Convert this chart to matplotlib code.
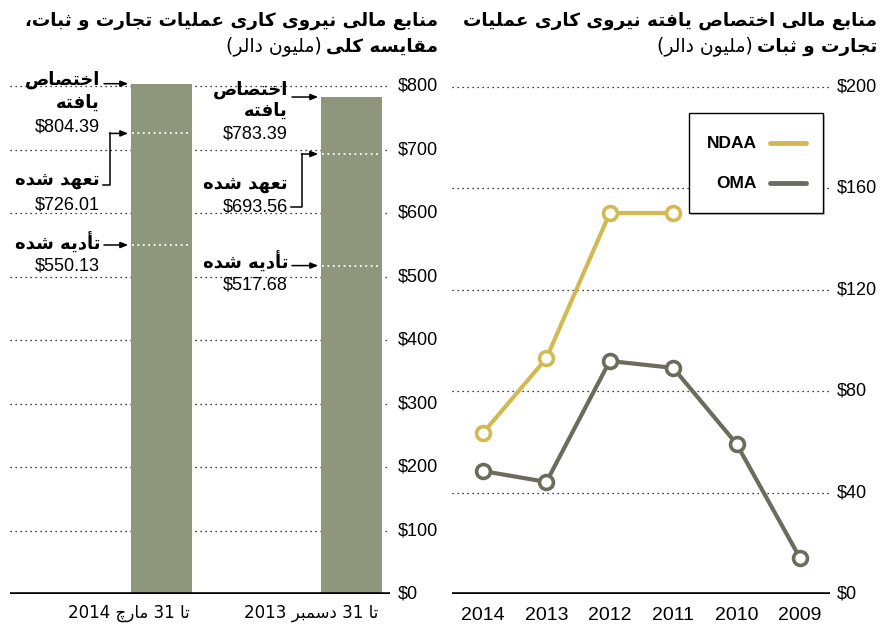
import matplotlib
matplotlib.use("Agg")
import matplotlib.pyplot as plt
from matplotlib.lines import Line2D
from matplotlib.patches import Rectangle

# ---------------- data ----------------
bar_categories = ["تا 31 مارچ 2014", "تا 31 دسمبر 2013"]
allocated = [804.39, 783.39]
obligated = [726.01, 693.56]
disbursed = [550.13, 517.68]
left_ticks = [0, 100, 200, 300, 400, 500, 600, 700, 800]

years = ["2014", "2013", "2012", "2011", "2010", "2009"]
ndaa = [63.5, 93.0, 150.3, 150.3, None, None]
oma = [48.5, 44.2, 91.9, 89.2, 59.2, 14.2]
right_ticks = [0, 40, 80, 120, 160, 200]

title_left_1 = "منابع مالی نیروی کاری عملیات تجارت و ثبات،"
title_left_2 = "مقایسه کلی"
title_right_1 = "منابع مالی اختصاص یافته نیروی کاری عملیات"
title_right_2 = "تجارت و ثبات"
unit_text = "(ملیون دالر)"
lbl_alloc = ["اختصاص", "یافته"]
lbl_oblig = "تعهد شده"
lbl_disb = "تأدیه شده"

# ---------------- arabic shaping (matplotlib has no RTL shaping) ----------------
FORMS = {
    '\u0627': ('\uFE8D', '\uFE8E', None, None),
    '\u0623': ('\uFE83', '\uFE84', None, None),
    '\u0628': ('\uFE8F', '\uFE90', '\uFE91', '\uFE92'),
    '\u062A': ('\uFE95', '\uFE96', '\uFE97', '\uFE98'),
    '\u062B': ('\uFE99', '\uFE9A', '\uFE9B', '\uFE9C'),
    '\u062C': ('\uFE9D', '\uFE9E', '\uFE9F', '\uFEA0'),
    '\u062E': ('\uFEA5', '\uFEA6', '\uFEA7', '\uFEA8'),
    '\u062F': ('\uFEA9', '\uFEAA', None, None),
    '\u0631': ('\uFEAD', '\uFEAE', None, None),
    '\u0633': ('\uFEB1', '\uFEB2', '\uFEB3', '\uFEB4'),
    '\u0634': ('\uFEB5', '\uFEB6', '\uFEB7', '\uFEB8'),
    '\u0635': ('\uFEB9', '\uFEBA', '\uFEBB', '\uFEBC'),
    '\u0639': ('\uFEC9', '\uFECA', '\uFECB', '\uFECC'),
    '\u0641': ('\uFED1', '\uFED2', '\uFED3', '\uFED4'),
    '\u0642': ('\uFED5', '\uFED6', '\uFED7', '\uFED8'),
    '\u0644': ('\uFEDD', '\uFEDE', '\uFEDF', '\uFEE0'),
    '\u0645': ('\uFEE1', '\uFEE2', '\uFEE3', '\uFEE4'),
    '\u0646': ('\uFEE5', '\uFEE6', '\uFEE7', '\uFEE8'),
    '\u0647': ('\uFEE9', '\uFEEA', '\uFEEB', '\uFEEC'),
    '\u0648': ('\uFEED', '\uFEEE', None, None),
    '\u06CC': ('\uFBFC', '\uFBFD', '\uFBFE', '\uFBFF'),
    '\u06A9': ('\uFB8E', '\uFB8F', '\uFB90', '\uFB91'),
    '\u0686': ('\uFB7A', '\uFB7B', '\uFB7C', '\uFB7D'),
}
MIRROR = {'(': ')', ')': '('}


def is_arabic(ch):
    return '\u0600' <= ch <= '\u06FF'


def shape_word(w):
    out = []
    n = len(w)
    for i, c in enumerate(w):
        if c not in FORMS:
            out.append(c)
            continue
        prev = w[i - 1] if i > 0 else None
        nxt = w[i + 1] if i < n - 1 else None
        jp = prev in FORMS and FORMS[prev][2] is not None
        jn = nxt in FORMS and FORMS[c][2] is not None
        iso, fin, ini, med = FORMS[c]
        if jp and jn:
            out.append(med)
        elif jp:
            out.append(fin)
        elif jn:
            out.append(ini)
        else:
            out.append(iso)
    return ''.join(out)


def rtl(text):
    toks = text.split(' ')
    vis = []
    for t in toks:
        if any(is_arabic(c) for c in t):
            s = shape_word(t)[::-1]
            s = ''.join(MIRROR.get(c, c) for c in s)
            vis.append(s)
        else:
            vis.append(t)
    return ' '.join(vis[::-1])


# ---------------- figure ----------------
W, H = 880, 626
fig = plt.figure(figsize=(8.8, 6.26), dpi=100)
fig.patch.set_facecolor("white")


def fp(x, y):
    return (x / W, 1 - y / H)


AR = ['DejaVu Sans']
LAT = ['Liberation Sans', 'DejaVu Sans']
BAR_C = "#8e967c"
GOLD = "#d3b954"
OLIVE = "#6d6c5c"
dots = (0, (1, 3))
PXL = 0.6344  # pixels per unit on left axis

# ---------- left axes ----------
axL = fig.add_axes([10 / W, 1 - 594 / H, 380 / W, 534 / H])
xs = list(range(len(bar_categories)))
axL.set_xlim(-151 / 190, 229 / 190)
axL.set_ylim(0, 534 / PXL)
bw = 61 / 190
for v in left_ticks[1:]:
    axL.axhline(v, color="black", lw=0.9, ls=dots, zorder=1)
axL.bar(xs, allocated, width=bw, color=BAR_C, zorder=2)
for i in xs:
    for v in (obligated[i], disbursed[i]):
        axL.hlines(v, i - bw / 2 + 0.01, i + bw / 2 - 0.01, colors="white",
                   lw=1.3, linestyles=(0, (1, 2)), zorder=3)
axL.axhline(0, color="black", lw=2.6, zorder=4)
axL.axis("off")
for v in left_ticks:
    axL.text(1.0 + 8 / 380, v, f"${v}", transform=axL.get_yaxis_transform(),
             ha="left", va="center", fontsize=13, family=LAT)
for i, c in enumerate(bar_categories):
    x_right = [190, 378][i]
    fig.text(*fp(x_right, 613), rtl(c), ha="right", va="center",
             fontsize=12, family=AR)

# annotations (left chart)
group = [
    dict(xr=100, y_al=(80, 103), y_alv=127, y_ob=180, y_obv=205, y_di=243, y_div=266,
         elbow=(110, 185)),
    dict(xr=288, y_al=(90, 111), y_alv=134, y_ob=184, y_obv=207, y_di=262, y_div=285,
         elbow=(302, 207)),
]
ap = dict(arrowstyle="-|>,head_length=0.45,head_width=0.18", lw=1.1,
          color="black", shrinkA=0, shrinkB=0)
for i, g in enumerate(group):
    xr = g["xr"]
    fig.text(*fp(xr, g["y_al"][0]), rtl(lbl_alloc[0]), ha="right", va="center",
             fontsize=13, weight="bold", family=AR)
    fig.text(*fp(xr, g["y_al"][1]), rtl(lbl_alloc[1]), ha="right", va="center",
             fontsize=13, weight="bold", family=AR)
    fig.text(*fp(xr, g["y_alv"]), f"${allocated[i]:.2f}", ha="right", va="center",
             fontsize=13, family=LAT)
    fig.text(*fp(xr, g["y_ob"]), rtl(lbl_oblig), ha="right", va="center",
             fontsize=13, weight="bold", family=AR)
    fig.text(*fp(xr, g["y_obv"]), f"${obligated[i]:.2f}", ha="right", va="center",
             fontsize=13, family=LAT)
    fig.text(*fp(xr, g["y_di"]), rtl(lbl_disb), ha="right", va="center",
             fontsize=13, weight="bold", family=AR)
    fig.text(*fp(xr, g["y_div"]), f"${disbursed[i]:.2f}", ha="right", va="center",
             fontsize=13, family=LAT)
    left_edge = i - bw / 2 - 0.012
    for v in (allocated[i], disbursed[i]):
        axL.annotate("", xy=(left_edge, v), xytext=fp(xr + 4, 594 - v * PXL),
                     textcoords="figure fraction", arrowprops=ap,
                     annotation_clip=False)
    ex, ey = g["elbow"]
    y_ob_px = 594 - obligated[i] * PXL
    fig.add_artist(Line2D([(xr + 3) / W, ex / W, ex / W],
                          [1 - ey / H, 1 - ey / H, 1 - y_ob_px / H],
                          color="black", lw=1.1))
    axL.annotate("", xy=(left_edge, obligated[i]), xytext=fp(ex - 0.5, y_ob_px),
                 textcoords="figure fraction", arrowprops=ap, annotation_clip=False)

# ---------- right axes ----------
axR = fig.add_axes([452 / W, 1 - 594 / H, 378 / W, 534 / H])
xr_ = list(range(len(years)))
axR.set_xlim(-31 / 63.4, 347 / 63.4)
axR.set_ylim(0, 534 / 2.535)
for v in right_ticks[1:]:
    axR.axhline(v, color="black", lw=0.9, ls=dots, zorder=1)
axR.axhline(0, color="black", lw=2.6, zorder=4)
nx = [x for x, v in zip(xr_, ndaa) if v is not None]
ny = [v for v in ndaa if v is not None]
axR.plot(nx, ny, color=GOLD, lw=3, marker="o", ms=10, mfc="white", mew=2.6,
         mec=GOLD, zorder=5)
axR.plot(xr_, oma, color=OLIVE, lw=3, marker="o", ms=10, mfc="white", mew=2.6,
         mec=OLIVE, zorder=5)
axR.axis("off")
for v in right_ticks:
    axR.text(1.0 + 7 / 378, v, f"${v}", transform=axR.get_yaxis_transform(),
             ha="left", va="center", fontsize=13, family=LAT)
for x, yl in zip(xr_, years):
    axR.text(x, -0.04, yl, transform=axR.get_xaxis_transform(), ha="center",
             va="center", fontsize=14, family=LAT)

# legend box (drawn manually in figure space)
fig.add_artist(Rectangle(fp(691, 215), 134 / W, 100 / H, facecolor="#c8c8c8",
                         edgecolor="none", zorder=6))
fig.add_artist(Rectangle(fp(689, 213), 134 / W, 100 / H, facecolor="white",
                         edgecolor="black", lw=1.0, zorder=7))
for lab, col, yy in (("NDAA", GOLD, 143), ("OMA", OLIVE, 183)):
    fig.text(*fp(757, yy), lab, ha="right", va="center", fontsize=12.5,
             weight="bold", family=['Liberation Sans Narrow', 'Liberation Sans'],
             zorder=8)
    fig.add_artist(Line2D([770 / W, 806 / W], [1 - yy / H, 1 - yy / H], color=col,
                          lw=3.5, solid_capstyle="round", zorder=8))

# ---------- titles ----------
TS = 13.2
fig.text(*fp(438, 21), rtl(title_left_1), ha="right", va="center", fontsize=TS,
         weight="bold", family=AR)
tl2 = fig.text(*fp(438, 47), rtl(title_left_2), ha="right", va="center",
               fontsize=TS, weight="bold", family=AR)
fig.text(*fp(877, 21), rtl(title_right_1), ha="right", va="center", fontsize=TS,
         weight="bold", family=AR)
tr2 = fig.text(*fp(877, 47), rtl(title_right_2), ha="right", va="center",
               fontsize=TS, weight="bold", family=AR)
fig.canvas.draw()
r = fig.canvas.get_renderer()
for t in (tl2, tr2):
    bb = t.get_window_extent(r)
    fig.text((bb.x0 - 4) / W, 1 - 46 / H, rtl(unit_text), ha="right", va="center",
             fontsize=13.5, family=AR)

fig.savefig("out.png", dpi=100, facecolor="white")
